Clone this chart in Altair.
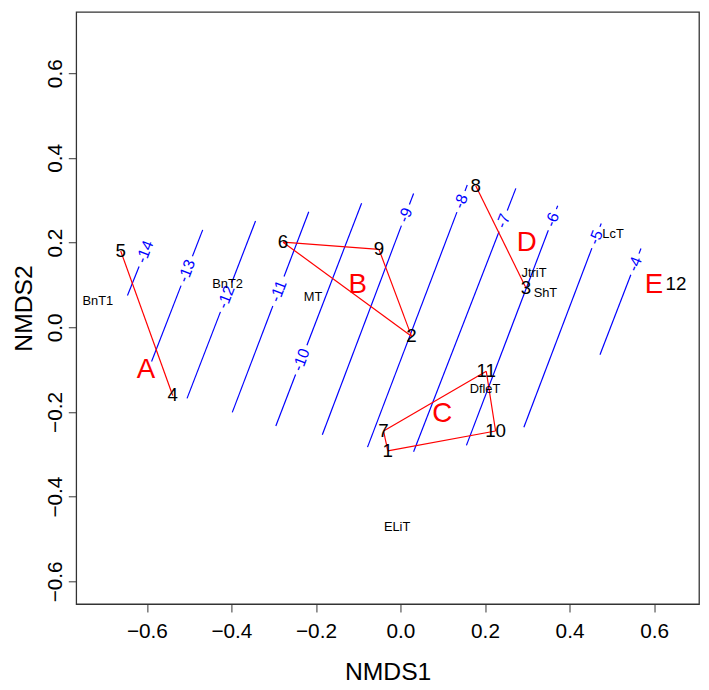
import math
import altair as alt
import pandas as pd

# ---------------- data ----------------
site_ids = ["1", "2", "3", "4", "5", "6", "7", "8", "9", "10", "11", "12"]
site_x = [-0.030, 0.026, 0.297, -0.539, -0.662, -0.278, -0.040, 0.178, -0.051, 0.225, 0.203, 0.652]
site_y = [-0.292, -0.021, 0.093, -0.161, 0.180, 0.201, -0.245, 0.334, 0.184, -0.245, -0.104, 0.103]

hulls = {
    "A": ["5", "4"],
    "B": ["6", "9", "2", "6"],
    "C": ["7", "11", "10", "1", "7"],
    "D": ["8", "3"],
}

group_labels = ["A", "B", "C", "D", "E"]
group_x = [-0.602, -0.101, 0.099, 0.299, 0.600]
group_y = [-0.100, 0.100, -0.205, 0.199, 0.100]

species = ["BnT1", "BnT2", "MT", "JtriT", "ShT", "LcT", "DfleT", "ELiT"]
sp_x = [-0.716, -0.409, -0.207, 0.316, 0.343, 0.503, 0.200, -0.008]
sp_y = [0.063, 0.102, 0.071, 0.128, 0.082, 0.220, -0.147, -0.472]

levels = [-14, -13, -12, -11, -10, -9, -8, -7, -6, -5, -4]
c_x0 = [-0.646, -0.589, -0.505, -0.398, -0.295, -0.185, -0.078, 0.031, 0.156, 0.292, 0.472]
c_y0 = [0.075, -0.081, -0.168, -0.201, -0.233, -0.254, -0.283, -0.294, -0.279, -0.236, -0.065]
c_x1 = [-0.591, -0.468, -0.343, -0.217, -0.092, 0.031, 0.158, 0.273, 0.372, 0.475, 0.569]
c_y1 = [0.212, 0.230, 0.251, 0.273, 0.293, 0.316, 0.336, 0.328, 0.287, 0.245, 0.186]
label_y = [0.178, 0.133, 0.071, 0.085, -0.077, 0.265, 0.297, 0.251, 0.254, 0.212, 0.149]

x_ticks = [-0.6, -0.4, -0.2, 0.0, 0.2, 0.4, 0.6]
y_ticks = [-0.6, -0.4, -0.2, 0.0, 0.2, 0.4, 0.6]

# ---------------- layout ----------------
W, H = 630, 599
XDOM = [-0.7673, 0.7064]
YDOM = [-0.6537, 0.7448]
sx = W / (XDOM[1] - XDOM[0])
sy = H / (YDOM[1] - YDOM[0])
FONT = "Liberation Sans"
LAB_FS = 16

# ---------------- derived tables ----------------
pos = {s: (x, y) for s, x, y in zip(site_ids, site_x, site_y)}

hull_rows = []
for g, seq in hulls.items():
    for a, b in zip(seq[:-1], seq[1:]):
        hull_rows.append({"x": pos[a][0], "y": pos[a][1], "x2": pos[b][0], "y2": pos[b][1]})
hull_df = pd.DataFrame(hull_rows)

seg_rows, lab_rows, angles = [], [], []
for lv, x0, y0, x1, y1, ly in zip(levels, c_x0, c_y0, c_x1, c_y1, label_y):
    dxp, dyp = (x1 - x0) * sx, (y1 - y0) * sy
    L = math.hypot(dxp, dyp)
    angles.append(math.degrees(math.atan2(dyp, dxp)))
    t = (ly - y0) / (y1 - y0)
    lx = x0 + t * (x1 - x0)
    txt = str(lv)
    gap = len(txt) * LAB_FS * 0.28 + 2.5
    dt = gap / L
    ta, tb = t - dt, t + dt
    if ta > 0:
        seg_rows.append({"x": x0, "y": y0, "x2": x0 + ta * (x1 - x0), "y2": y0 + ta * (y1 - y0)})
    if tb < 1:
        seg_rows.append({"x": x0 + tb * (x1 - x0), "y": y0 + tb * (y1 - y0), "x2": x1, "y2": y1})
    lab_rows.append({"x": lx, "y": ly, "t": txt})
seg_df = pd.DataFrame(seg_rows)
lab_df = pd.DataFrame(lab_rows)
text_angle = 360 - sum(angles) / len(angles)

site_df = pd.DataFrame({"x": site_x, "y": site_y, "t": site_ids})
grp_df = pd.DataFrame({"x": group_x, "y": group_y, "t": group_labels})
sp_df = pd.DataFrame({"x": sp_x, "y": sp_y, "t": species})

# ---------------- encodings ----------------
xs = alt.Scale(domain=XDOM, nice=False, zero=False)
ys = alt.Scale(domain=YDOM, nice=False, zero=False)

X = alt.X("x:Q", scale=xs, axis=alt.Axis(
    values=x_ticks, format=".1f", title="NMDS1", labelPadding=9,
    titleY=76, titleBaseline="alphabetic", titleAnchor="middle"))
Y = alt.Y("y:Q", scale=ys, axis=alt.Axis(
    values=y_ticks, format=".1f", title="NMDS2", labelAngle=270,
    labelAlign="center", labelBaseline="alphabetic", labelPadding=7,
    titleAngle=270, titleX=-53, titleY=H / 2, titleAlign="center",
    titleBaseline="middle"))

contours = alt.Chart(seg_df).mark_rule(color="#0000FF", strokeWidth=1.2).encode(
    x=X, y=Y, x2="x2:Q", y2="y2:Q")
contour_labels = alt.Chart(lab_df).mark_text(
    color="#0000FF", font=FONT, fontSize=LAB_FS, angle=text_angle,
    align="center", baseline="middle").encode(x=X, y=Y, text="t:N")
hull_lines = alt.Chart(hull_df).mark_rule(color="#FF0000", strokeWidth=1.2).encode(
    x=X, y=Y, x2="x2:Q", y2="y2:Q")
sites = alt.Chart(site_df).mark_text(
    color="black", font=FONT, fontSize=19, align="center", baseline="middle").encode(
    x=X, y=Y, text="t:N")
groups = alt.Chart(grp_df).mark_text(
    color="#FF0000", font=FONT, fontSize=28, align="center", baseline="middle").encode(
    x=X, y=Y, text="t:N")
spec_txt = alt.Chart(sp_df).mark_text(
    color="black", font=FONT, fontSize=13, align="center", baseline="middle").encode(
    x=X, y=Y, text="t:N")

chart = alt.layer(contours, contour_labels, hull_lines, sites, groups, spec_txt).properties(
    width=W, height=H,
    autosize=alt.AutoSizeParams(type="none"),
    padding={"left": 69, "top": 0, "right": 2, "bottom": 85},
    background="white",
).configure_view(
    stroke="#333333", strokeWidth=1.3
).configure_axis(
    domain=False, grid=False, tickColor="#333333", tickSize=8, tickWidth=1,
    labelFont=FONT, labelFontSize=21, labelColor="black",
    titleFont=FONT, titleFontSize=25, titleFontWeight="normal", titleColor="black",
)

chart.save("out.html", embed_options={"renderer": "svg", "actions": False})
